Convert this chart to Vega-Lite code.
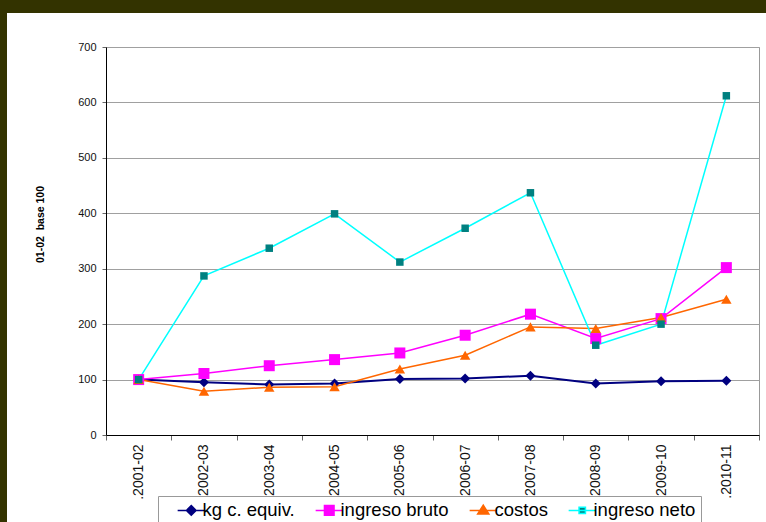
{
  "$schema": "https://vega.github.io/schema/vega-lite/v6.json",
  "background": "white",
  "padding": 0,
  "autosize": {"type": "pad"},
  "config": {"font": "Liberation Sans", "view": {"stroke": null}},
  "spacing": 0,
  "bounds": "flush",
  "vconcat": [
    {"width": 766, "height": 13, "view": {"fill": "#333300", "stroke": null}, "data": {"values": []}, "mark": "rect", "encoding": {}},
    {
      "spacing": 99,
      "bounds": "flush",
      "hconcat": [
        {"width": 7, "height": 509, "view": {"fill": "#333300", "stroke": null}, "data": {"values": []}, "mark": "rect", "encoding": {}},
        {
          "spacing": 33,
          "bounds": "flush",
          "vconcat": [
            {"width": 653, "height": 1, "view": {"stroke": null}, "data": {"values": []}, "mark": "rect", "encoding": {}},
            {
              "width": 653,
              "height": 388,
              "view": {"stroke": "#999999", "strokeWidth": 1, "fill": "white"},
              "data": {"values": [
                {"periodo": ".2001-02", "serie": "kg c. equiv.", "valor": 100},
                {"periodo": ".2002-03", "serie": "kg c. equiv.", "valor": 95},
                {"periodo": ".2003-04", "serie": "kg c. equiv.", "valor": 91},
                {"periodo": ".2004-05", "serie": "kg c. equiv.", "valor": 93},
                {"periodo": ".2005-06", "serie": "kg c. equiv.", "valor": 101},
                {"periodo": ".2006-07", "serie": "kg c. equiv.", "valor": 102},
                {"periodo": ".2007-08", "serie": "kg c. equiv.", "valor": 107},
                {"periodo": ".2008-09", "serie": "kg c. equiv.", "valor": 93},
                {"periodo": ".2009-10", "serie": "kg c. equiv.", "valor": 97},
                {"periodo": ".2010-11", "serie": "kg c. equiv.", "valor": 98},
                {"periodo": ".2001-02", "serie": "ingreso bruto", "valor": 100},
                {"periodo": ".2002-03", "serie": "ingreso bruto", "valor": 111},
                {"periodo": ".2003-04", "serie": "ingreso bruto", "valor": 125},
                {"periodo": ".2004-05", "serie": "ingreso bruto", "valor": 136},
                {"periodo": ".2005-06", "serie": "ingreso bruto", "valor": 148},
                {"periodo": ".2006-07", "serie": "ingreso bruto", "valor": 180},
                {"periodo": ".2007-08", "serie": "ingreso bruto", "valor": 218},
                {"periodo": ".2008-09", "serie": "ingreso bruto", "valor": 174},
                {"periodo": ".2009-10", "serie": "ingreso bruto", "valor": 210},
                {"periodo": ".2010-11", "serie": "ingreso bruto", "valor": 302},
                {"periodo": ".2001-02", "serie": "costos", "valor": 100},
                {"periodo": ".2002-03", "serie": "costos", "valor": 79},
                {"periodo": ".2003-04", "serie": "costos", "valor": 86},
                {"periodo": ".2004-05", "serie": "costos", "valor": 87},
                {"periodo": ".2005-06", "serie": "costos", "valor": 119},
                {"periodo": ".2006-07", "serie": "costos", "valor": 144},
                {"periodo": ".2007-08", "serie": "costos", "valor": 195},
                {"periodo": ".2008-09", "serie": "costos", "valor": 192},
                {"periodo": ".2009-10", "serie": "costos", "valor": 212},
                {"periodo": ".2010-11", "serie": "costos", "valor": 245},
                {"periodo": ".2001-02", "serie": "ingreso neto", "valor": 100},
                {"periodo": ".2002-03", "serie": "ingreso neto", "valor": 287},
                {"periodo": ".2003-04", "serie": "ingreso neto", "valor": 337},
                {"periodo": ".2004-05", "serie": "ingreso neto", "valor": 399},
                {"periodo": ".2005-06", "serie": "ingreso neto", "valor": 312},
                {"periodo": ".2006-07", "serie": "ingreso neto", "valor": 373},
                {"periodo": ".2007-08", "serie": "ingreso neto", "valor": 437},
                {"periodo": ".2008-09", "serie": "ingreso neto", "valor": 162},
                {"periodo": ".2009-10", "serie": "ingreso neto", "valor": 200},
                {"periodo": ".2010-11", "serie": "ingreso neto", "valor": 612}
              ]},
              "encoding": {
                "x": {
                  "field": "periodo", "type": "ordinal", "sort": null,
                  "scale": {"type": "band", "paddingInner": 0, "paddingOuter": 0},
                  "axis": {
                    "title": null, "tickBand": "extent", "grid": false,
                    "labelAngle": 270, "labelFontSize": 14, "labelColor": "#111111",
                    "labelPadding": 4, "tickSize": 5, "tickColor": "#666666",
                    "domainColor": "#000000", "domainWidth": 1
                  }
                },
                "y": {
                  "field": "valor", "type": "quantitative",
                  "scale": {"domain": [0, 700], "nice": false},
                  "axis": {
                    "title": "01-02 \u00a0base 100", "titleFontSize": 10.5, "titleFontWeight": "bold",
                    "titleColor": "#000000", "titleX": -66, "titleY": 177, "titleAngle": 270,
                    "titleAlign": "center", "titleBaseline": "middle",
                    "values": [0, 100, 200, 300, 400, 500, 600, 700],
                    "labelFontSize": 11, "labelColor": "#111111", "labelPadding": 6,
                    "tickSize": 4, "tickColor": "#666666",
                    "domainColor": "#000000", "domainWidth": 1,
                    "grid": true, "gridColor": "#A0A0A0", "gridWidth": 1
                  }
                }
              },
              "layer": [
                {
                  "mark": {"type": "line"},
                  "encoding": {
                    "stroke": {
                      "field": "serie", "type": "nominal",
                      "scale": {"domain": ["kg c. equiv.", "ingreso bruto", "costos", "ingreso neto"], "range": ["#000080", "#FF00FF", "#FF6600", "#00FFFF"]},
                      "legend": {
                        "title": null, "orient": "none", "direction": "horizontal",
                        "legendX": 52, "legendY": 449,
                        "fillColor": "white", "strokeColor": "#999999", "padding": 5,
                        "labelFontSize": 18.5, "labelColor": "#000000", "labelFont": "Liberation Sans",
                        "symbolSize": 64, "symbolOffset": 19, "labelOffset": 2, "columnPadding": 6,
                        "symbolStrokeWidth": 1.5,
                        "encode": {
                          "symbols": {
                            "update": {
                              "shape": {"signal": "datum.value == 'kg c. equiv.' ? 'M-3.4,0H3.4M0,-1.2L1.2,0L0,1.2L-1.2,0Z' : datum.value == 'ingreso bruto' ? 'M-3.4,0H3.4M-1.2,-1.2H1.2V1.2H-1.2Z' : datum.value == 'costos' ? 'M-3.4,0H3.4M0,-1.3L1.4,0.9L-1.4,0.9Z' : 'M-3.4,0H3.4M-0.8,-0.8H0.8V0.8H-0.8Z'"},
                              "fill": {"signal": "datum.value == 'kg c. equiv.' ? '#000080' : datum.value == 'ingreso bruto' ? '#FF00FF' : datum.value == 'costos' ? '#FF6600' : '#008080'"},
                              "fillOpacity": {"value": 1},
                              "strokeWidth": {"value": 1.5}
                            }
                          }
                        }
                      }
                    },
                    "strokeWidth": {
                      "field": "serie", "type": "nominal",
                      "scale": {"type": "ordinal", "domain": ["kg c. equiv.", "ingreso bruto", "costos", "ingreso neto"], "range": [2, 1.5, 1.5, 1.5]},
                      "legend": null
                    }
                  }
                },
                {
                  "mark": {"type": "point", "filled": true, "opacity": 1, "strokeWidth": 0},
                  "encoding": {
                    "fill": {
                      "field": "serie", "type": "nominal",
                      "scale": {"domain": ["kg c. equiv.", "ingreso bruto", "costos", "ingreso neto"], "range": ["#000080", "#FF00FF", "#FF6600", "#008080"]},
                      "legend": null
                    },
                    "shape": {
                      "field": "serie", "type": "nominal",
                      "scale": {"domain": ["kg c. equiv.", "ingreso bruto", "costos", "ingreso neto"], "range": ["diamond", "square", "triangle-up", "square"]},
                      "legend": null
                    },
                    "size": {
                      "field": "serie", "type": "nominal",
                      "scale": {"type": "ordinal", "domain": ["kg c. equiv.", "ingreso bruto", "costos", "ingreso neto"], "range": [100, 121, 110, 56]},
                      "legend": null
                    }
                  }
                }
              ],
              "resolve": {"scale": {"fill": "independent", "stroke": "independent"}}
            }
          ]
        }
      ]
    }
  ]
}
